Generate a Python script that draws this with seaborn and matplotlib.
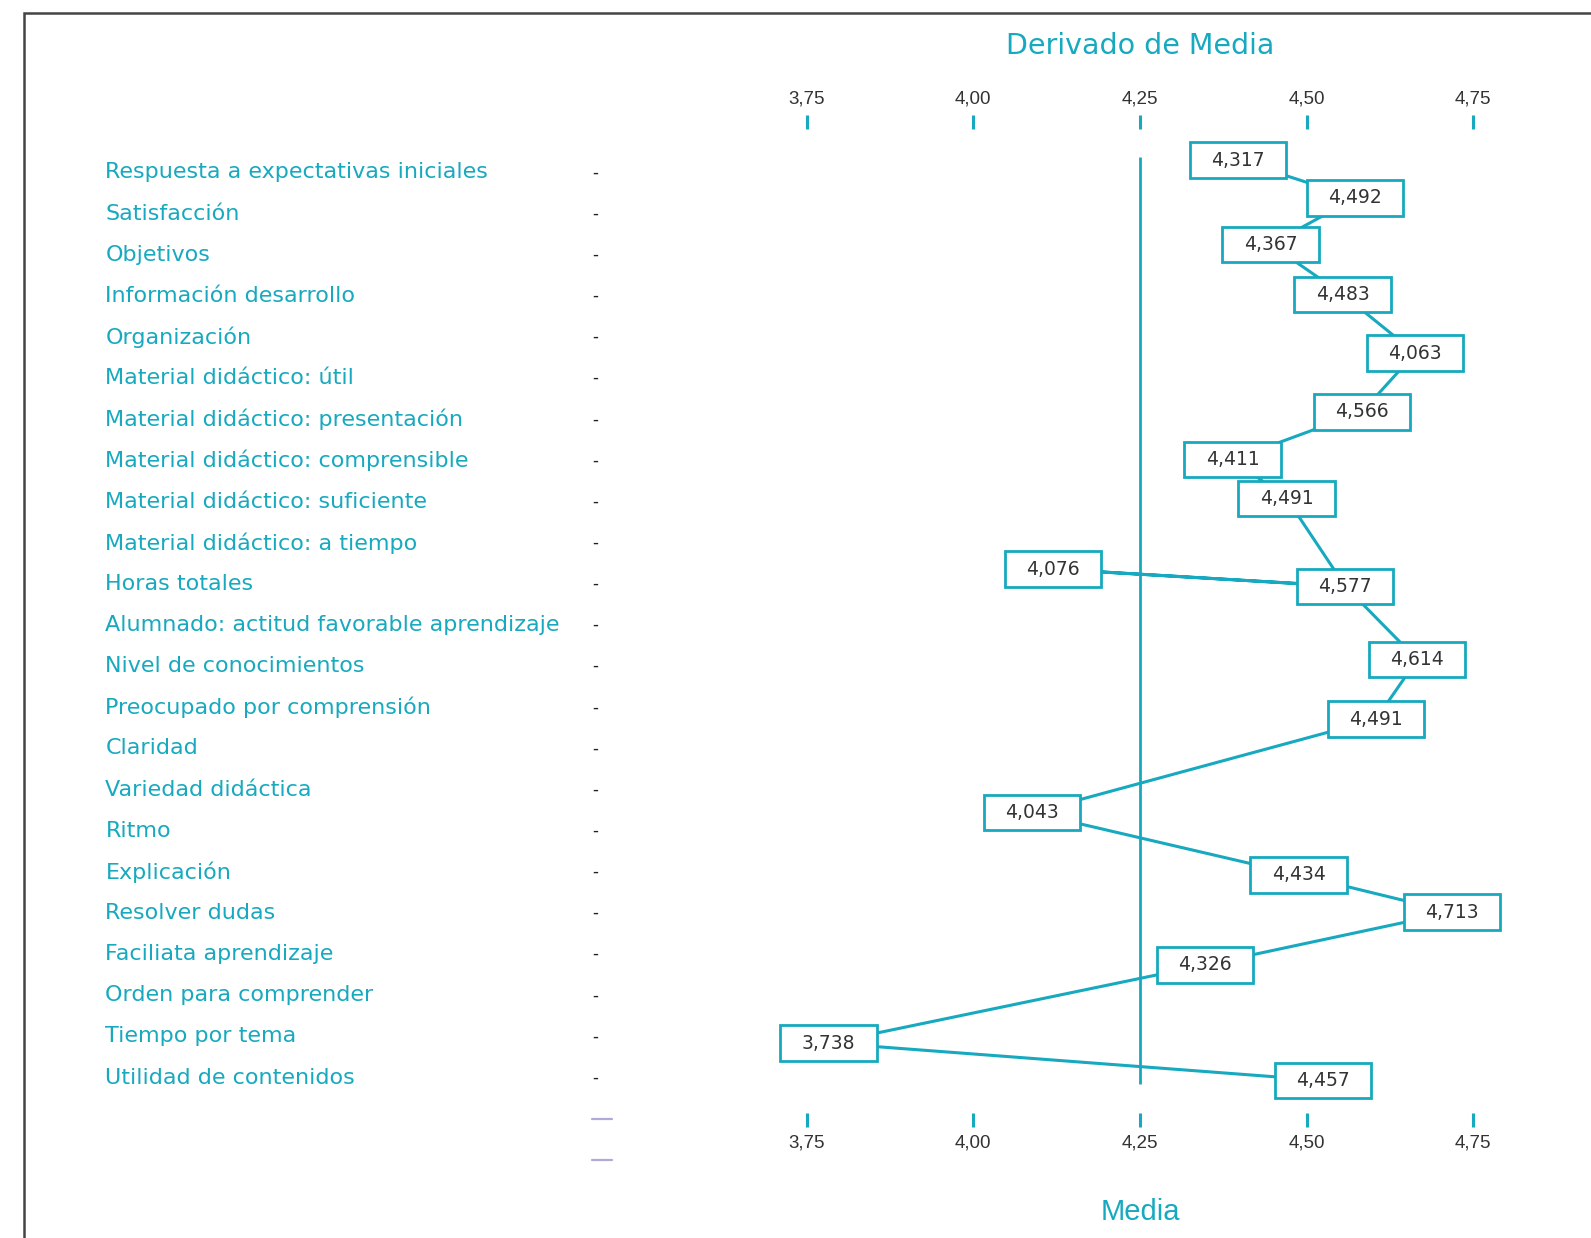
import pandas as pd
import matplotlib
matplotlib.use("Agg")
import matplotlib.pyplot as plt
import matplotlib.transforms as mtransforms
from matplotlib.patches import Rectangle
from matplotlib.lines import Line2D
from matplotlib.ticker import FuncFormatter
import seaborn as sns


# Categorias del eje vertical
categorias = ['Respuesta a expectativas iniciales',
              'Satisfacción',
              'Objetivos',
              'Información desarrollo',
              'Organización',
              'Material didáctico: útil',
              'Material didáctico: presentación',
              'Material didáctico: comprensible',
              'Material didáctico: suficiente',
              'Material didáctico: a tiempo',
              'Horas totales',
              'Alumnado: actitud favorable aprendizaje',
              'Nivel de conocimientos',
              'Preocupado por comprensión',
              'Claridad',
              'Variedad didáctica',
              'Ritmo',
              'Explicación',
              'Resolver dudas',
              'Faciliata aprendizaje',
              'Orden para comprender',
              'Tiempo por tema',
              'Utilidad de contenidos']

# Valores impresos en las etiquetas
etiquetas = [4.317, 4.492, 4.367, 4.483, 4.063, 4.566, 4.411, 4.491, 4.076,
             4.577, 4.614, 4.491, 4.043, 4.434, 4.713, 4.326, 3.738, 4.457]

# Posicion de cada punto tal como aparece en el grafico (Media, fila)
media = [4.397, 4.573, 4.446, 4.554, 4.663, 4.583, 4.389, 4.470, 4.120,
         4.558, 4.666, 4.604, 4.088, 4.488, 4.718, 4.348, 3.783, 4.525]
fila = [-0.30, 0.62, 1.75, 2.96, 4.39, 5.82, 6.98, 7.92, 9.64,
        10.06, 11.84, 13.29, 15.56, 17.07, 17.98, 19.26, 21.16, 22.07]

# Orden en que la linea recorre los puntos
recorrido = [0, 1, 2, 3, 4, 5, 6, 7, 9, 8, 9, 10, 11, 12, 13, 14, 15, 16, 17]

ticks = [3.75, 4.00, 4.25, 4.50, 4.75]
referencia = 4.25

df = pd.DataFrame({'Media': [media[i] for i in recorrido],
                   'Fila': [fila[i] for i in recorrido],
                   'orden': range(len(recorrido))})

# Plot
sns.set_style("white")
plt.rcParams['font.family'] = ['DejaVu Sans']

cian = '#17a9bf'
gris = '#333333'

fig = plt.figure(figsize=(15.91, 12.38), dpi=100)
ax = fig.add_axes([0.5070, 0.1010, 0.4190, 0.7949])

sns.lineplot(data=df, x='Media', y='Fila', sort=False, estimator=None,
             color=cian, linewidth=2.2, ax=ax, zorder=2)

ax.vlines(referencia, -0.37, 22.15, color=cian, linewidth=2, zorder=1)

# Cajas con los valores
bw, bh = 0.1446, 0.863
for x, y, v in zip(media, fila, etiquetas):
    ax.add_patch(Rectangle((x - bw / 2, y - bh / 2), bw, bh,
                           facecolor='white', edgecolor=cian,
                           linewidth=2, zorder=3, clip_on=False))
    ax.text(x, y, f"{v:.3f}".replace('.', ','), ha='center', va='center',
            fontsize=13.5, color=gris, zorder=4)

ax.set_xlim(3.75, 4.75)
ax.set_ylim(22.86, -1.06)
ax.set_yticks([])
ax.set_ylabel('')
ax.set_xticks(ticks)
ax.xaxis.set_major_formatter(FuncFormatter(lambda v, p: f"{v:.2f}".replace('.', ',')))
for s in ax.spines.values():
    s.set_visible(False)

ax.tick_params(axis='x', which='major', top=True, labeltop=True,
               bottom=True, labelbottom=True, direction='out',
               length=10.2, width=2.2, color=cian, labelcolor=gris,
               labelsize=13.5, pad=5)
for lab in ax.get_xticklabels():
    lab.set_family(['Liberation Sans', 'DejaVu Sans'])
for t in ax.xaxis.get_major_ticks():
    t.label2.set_family(['Liberation Sans', 'DejaVu Sans'])

ax.set_xlabel('Media', color=cian, fontsize=21, labelpad=34,
              family=['Liberation Sans Narrow', 'Liberation Sans'])
ax.text(0.5, 1.0845, 'Derivado de Media', transform=ax.transAxes,
        ha='center', va='center', fontsize=20.5, color=cian)

# Etiquetas de categorias a la izquierda
trans = mtransforms.blended_transform_factory(fig.transFigure, ax.transData)
for i, cat in enumerate(categorias):
    ax.text(0.0663, i, cat, transform=trans, ha='left', va='center',
            fontsize=16, color=cian, clip_on=False)
    ax.text(0.3744, i, '-', transform=trans, ha='center', va='center',
            fontsize=12, color='#222222', clip_on=False)
for i in [len(categorias), len(categorias) + 1]:
    ax.add_line(Line2D([0.3718, 0.3847], [i, i], transform=trans,
                       color='#b3a9d9', linewidth=1.6, clip_on=False))

# Marco
fig.add_artist(Rectangle((0.01534, -0.1), 2, 1.0893, transform=fig.transFigure,
                         fill=False, edgecolor='#444444', linewidth=1.8))

plt.savefig('out.png', dpi=100)
